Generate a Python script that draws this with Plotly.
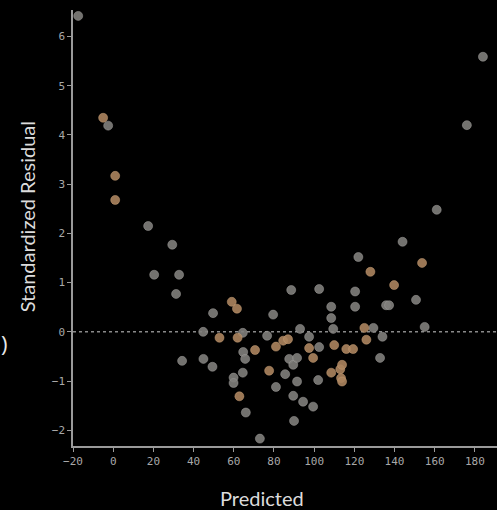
import plotly.graph_objects as go

# Predicted value vs. standardized residual for each observation
predicted = [
    -17.4, -5.0, -2.5, 1.0, 1.0, 17.4, 29.4, 20.4, 32.8, 31.3,
    34.3, 44.8, 44.9, 49.4, 49.7, 52.9, 59.0, 61.6, 61.9, 64.5,
    64.7, 65.7, 64.5, 59.9, 59.9, 62.8, 66.0, 70.6, 73.0, 76.6,
    77.6, 79.6, 81.0, 81.0, 84.6, 85.6, 87.0, 87.6, 88.6, 89.6,
    89.6, 90.0, 91.5, 91.5, 93.0, 94.5, 97.5, 97.5, 99.5, 99.5,
    102.0, 102.5, 102.5, 108.5, 108.5, 108.5, 109.5, 110.0, 113.0, 113.4,
    113.9, 113.9, 116.0, 119.4, 120.4, 120.4, 122.0, 125.0, 126.0, 128.0,
    129.5, 132.8, 134.0, 135.8, 137.3, 139.8, 144.0, 150.7, 153.7, 155.0,
    161.0, 176.0, 184.0,
]
std_residual = [
    6.42, 4.35, 4.19, 3.17, 2.68, 2.15, 1.77, 1.16, 1.16, 0.77,
    -0.59, 0.00, -0.55, -0.71, 0.38, -0.12, 0.61, 0.47, -0.12, -0.02,
    -0.41, -0.55, -0.83, -0.93, -1.04, -1.31, -1.64, -0.37, -2.17, -0.08,
    -0.79, 0.35, -0.30, -1.12, -0.18, -0.86, -0.15, -0.55, 0.85, -0.67,
    -1.30, -1.81, -0.53, -1.01, 0.06, -1.42, -0.10, -0.33, -0.53, -1.52,
    -0.98, 0.87, -0.31, 0.51, 0.28, -0.83, 0.06, -0.27, -0.76, -0.94,
    -0.67, -1.01, -0.35, -0.35, 0.82, 0.51, 1.52, 0.08, -0.16, 1.22,
    0.08, -0.53, -0.10, 0.54, 0.54, 0.95, 1.83, 0.65, 1.40, 0.10,
    2.48, 4.20, 5.59,
]
# point group: "g" = grey, "o" = tan
group = [
    "g", "o", "g", "o", "o", "g", "g", "g", "g", "g",
    "g", "g", "g", "g", "g", "o", "o", "o", "o", "g",
    "g", "g", "g", "g", "g", "o", "g", "o", "g", "g",
    "o", "g", "o", "g", "o", "g", "o", "g", "g", "g",
    "g", "g", "g", "g", "g", "g", "g", "o", "o", "g",
    "g", "g", "g", "g", "g", "o", "g", "o", "o", "o",
    "o", "o", "o", "o", "g", "g", "g", "o", "o", "o",
    "g", "g", "g", "g", "g", "o", "g", "g", "o", "g",
    "g", "g", "g",
]

x_ticks = [-20, 0, 20, 40, 60, 80, 100, 120, 140, 160, 180]
y_ticks = [-2, -1, 0, 1, 2, 3, 4, 5, 6]

group_colors = {"g": "rgba(128,126,123,0.9)", "o": "rgba(172,132,94,0.9)"}
edge_colors = {"g": "rgba(160,158,155,0.5)", "o": "rgba(200,160,120,0.5)"}

fig = go.Figure()
for key in ["g", "o"]:
    xs = [p for p, g in zip(predicted, group) if g == key]
    ys = [r for r, g in zip(std_residual, group) if g == key]
    fig.add_trace(go.Scatter(
        x=xs, y=ys, mode="markers",
        marker=dict(size=9, color=group_colors[key],
                    line=dict(width=1, color=edge_colors[key])),
        showlegend=False, hoverinfo="x+y",
    ))

# zero reference line
fig.add_shape(type="line", xref="paper", x0=0, x1=1, yref="y", y0=0, y1=0,
              line=dict(color="#8a8a8a", width=1.5, dash="dot"), layer="below")

axis_common = dict(
    showgrid=False, zeroline=False, showline=True, linecolor="#9a9a9a", linewidth=1.5,
    ticks="outside", tickcolor="#9a9a9a", ticklen=4, tickwidth=1,
    tickfont=dict(family="DejaVu Sans Mono", size=11, color="#a8a8a8"),
)

fig.update_layout(
    width=497, height=510,
    margin=dict(l=73, r=0, t=10, b=64),
    paper_bgcolor="black", plot_bgcolor="black",
    xaxis=dict(range=[-20, 191], tickvals=x_ticks, **axis_common),
    yaxis=dict(range=[-2.32, 6.54], tickvals=y_ticks, **axis_common),
    annotations=[
        dict(text="Predicted", xref="paper", yref="paper", x=0.445, y=-0.12,
             xanchor="center", yanchor="middle", showarrow=False,
             font=dict(family="Lato", size=20, color="#dcdcdc")),
        dict(text="Standardized Residual", xref="paper", yref="paper", x=-0.108, y=0.525,
             xanchor="center", yanchor="middle", textangle=-90, showarrow=False,
             font=dict(family="Lato", size=20, color="#dcdcdc")),
        dict(text=")", xref="paper", yref="paper", x=-0.175, y=0.236,
             xanchor="left", yanchor="middle", showarrow=False,
             font=dict(family="Open Sans", size=22, color="#e8e8e8")),
    ],
)

fig.write_html("out.html")
